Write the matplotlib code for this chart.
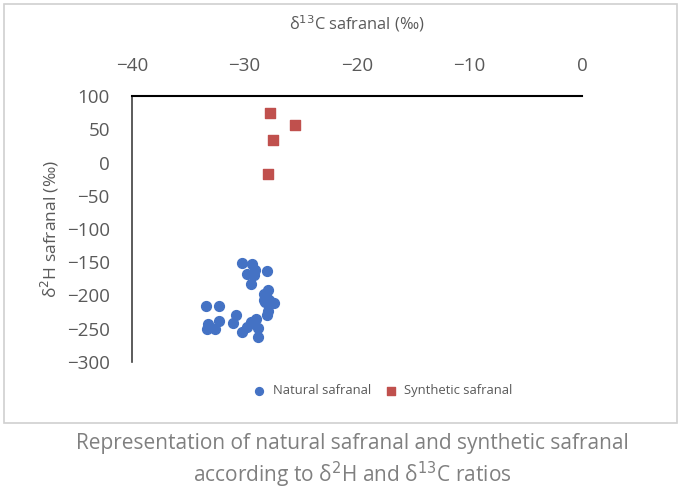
import numpy as np
import matplotlib
matplotlib.use('Agg')
import matplotlib.pyplot as plt
from matplotlib.patches import Rectangle

plt.rcParams['font.family'] = ['Open Sans', 'DejaVu Sans']
plt.rcParams['axes.unicode_minus'] = True

# natural safranal (d13C, d2H)
nat_c = [-30.2, -29.3, -29.1, -29.8, -29.2, -28.0, -29.4, -27.9, -28.3, -28.3,
         -27.8, -27.35, -28.1, -33.4, -32.3, -33.2, -32.3, -33.3, -32.6, -30.8,
         -31.0, -30.25, -29.8, -29.4, -29.0, -28.8, -28.8, -28.0, -27.9, -28.2]
nat_h = [-151, -153, -161, -167, -169, -163, -183, -191, -197, -207,
         -207, -212, -201, -216, -216, -243, -238, -251, -251, -230,
         -242, -255, -247, -240, -235, -249, -262, -230, -224, -210]
# synthetic safranal
syn_c = [-27.7, -25.5, -27.45, -27.9]
syn_h = [74, 56, 34, -18]

xticks = [-40, -30, -20, -10, 0]
yticks = [100, 50, 0, -50, -100, -150, -200, -250, -300]

txt = '#595959'
fig = plt.figure(figsize=(6.8, 4.99), dpi=100)
fig.patches.append(Rectangle((4/680, 1-423/499), 673/680, 419/499,
                             transform=fig.transFigure, fill=False,
                             edgecolor='#d0d0d0', lw=1.2))

ax = fig.add_axes([132/680, 1-362/499, 450/680, 266/499])
ax.scatter(nat_c, nat_h, s=50, color='#4472C4', marker='o', label='Natural safranal', zorder=3)
ax.scatter(syn_c, syn_h, s=50, color='#C0504D', marker='s', label='Synthetic safranal', zorder=3)

ax.set_xlim(-40, 0)
ax.set_ylim(-300, 100)
ax.set_xticks(xticks)
ax.set_yticks(yticks)
ax.xaxis.tick_top()
ax.xaxis.set_label_position('top')
ax.tick_params(length=0, labelsize=13.5, colors=txt)
ax.tick_params(axis='x', pad=15)
ax.tick_params(axis='y', pad=16)
for s in ['right', 'bottom']:
    ax.spines[s].set_visible(False)
ax.spines['top'].set_linewidth(1.5)
ax.spines['left'].set_linewidth(1.2)
ax.spines['left'].set_color('#404040')

ax.set_xlabel('δ$^{13}$C safranal (‰)', fontsize=11.8, color=txt, labelpad=20)
ax.set_ylabel('δ$^{2}$H safranal (‰)', fontsize=12.5, color=txt, labelpad=4)

leg = ax.legend(loc='upper center', bbox_to_anchor=(0.55, -0.04), ncol=2, frameon=False,
                fontsize=9.4, handletextpad=0.05, columnspacing=0.5, markerscale=0.8)
for t in leg.get_texts():
    t.set_color(txt)

fig.text(352/680, 1-444/499, 'Representation of natural safranal and synthetic safranal',
         ha='center', va='center', fontsize=15, color='#808080')
fig.text(352/680, 1-475/499, 'according to δ$^{2}$H and δ$^{13}$C ratios',
         ha='center', va='center', fontsize=15, color='#808080')

fig.savefig('out.png', dpi=100)
